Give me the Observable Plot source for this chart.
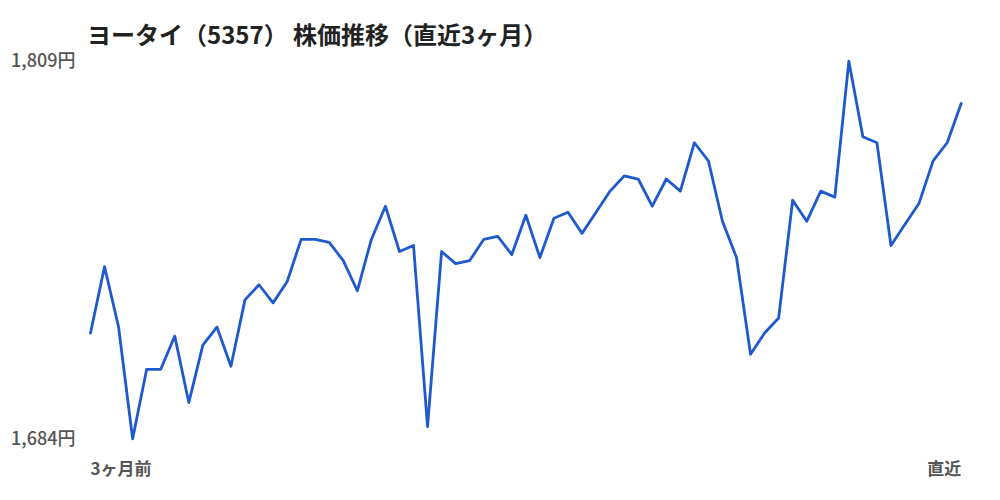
<!DOCTYPE html>
<html>
<head>
<meta charset="utf-8">
<script src="https://cdn.jsdelivr.net/npm/d3@7"></script>
<script src="https://cdn.jsdelivr.net/npm/@observablehq/plot@0.6"></script>
<style>
  html, body { margin: 0; padding: 0; background: #fff; }
  #title { height: 40px; box-sizing: border-box; padding-top: 19px; padding-left: 87px; white-space: nowrap;
    font-family: "Noto Sans CJK JP", sans-serif; font-weight: 700; font-size: 24px; line-height: 30px; color: #222; }
  #chart svg { display: block; overflow: visible; }
</style>
</head>
<body>
<div id="title">ヨータイ（5357） 株価推移（直近3ヶ月）</div>
<div id="chart"></div>
<script>
const titleText = "ヨータイ（5357） 株価推移（直近3ヶ月）";
const prices = [
  1719, 1741, 1721, 1684, 1707, 1707, 1718, 1696, 1715, 1721,
  1708, 1730, 1735, 1729, 1736, 1750, 1750, 1749, 1743, 1733,
  1750, 1761, 1746, 1748, 1688, 1746, 1742, 1743, 1750, 1751,
  1745, 1758, 1744, 1757, 1759, 1752, 1759, 1766, 1771, 1770,
  1761, 1770, 1766, 1782, 1776, 1756, 1744, 1712, 1719, 1724,
  1763, 1756, 1766, 1764, 1809, 1784, 1782, 1748, 1755, 1762,
  1776, 1782, 1795
];
const xLabels = ["3ヶ月前", "直近"];
const yTicks = [d3.min(prices), d3.max(prices)];

const data = prices.map((p, i) => ({i, p}));
const last = prices.length - 1;

const chart = Plot.plot({
  width: 1000,
  height: 460,
  marginLeft: 90,
  marginRight: 39.3,
  marginTop: 20.7,
  marginBottom: 61.7,
  style: {fontFamily: "'Noto Sans CJK JP', sans-serif", fontSize: "18px", color: "#555", background: "#fff"},
  x: {domain: [0, last], axis: null},
  y: {domain: yTicks, axis: null},
  marks: [
    Plot.axisY(yTicks, {label: null, tickSize: 0, tickPadding: 15, tickFormat: d => d3.format(",")(d) + "円", fontSize: 18, fontWeight: 500, fill: "#555"}),
    Plot.line(data, {x: "i", y: "p", stroke: "#1f5acc", strokeWidth: 2.8, strokeLinejoin: "round", strokeLinecap: "round"}),
    Plot.text([{i: 0, t: xLabels[0]}], {x: "i", text: "t", frameAnchor: "bottom", textAnchor: "start", dy: 36, fontSize: 17, fontWeight: "bold", fill: "#555"}),
    Plot.text([{i: last, t: xLabels[1]}], {x: "i", text: "t", frameAnchor: "bottom", textAnchor: "end", dy: 36, fontSize: 17, fontWeight: "bold", fill: "#555"})
  ]
});
document.getElementById("chart").appendChild(chart);
</script>
</body>
</html>
